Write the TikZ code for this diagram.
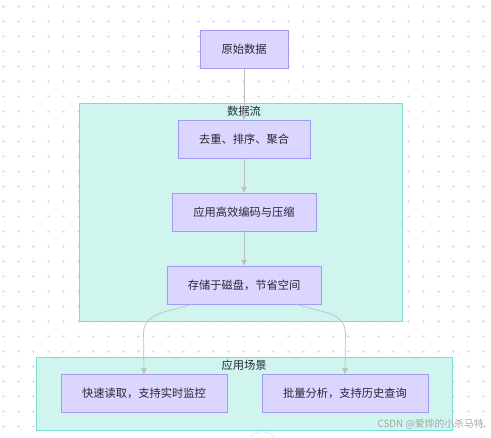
\documentclass[tikz,border=0pt]{standalone}
\usepackage{fontspec}
\setmainfont{Noto Sans CJK SC}
\usepackage{tikz}
\usetikzlibrary{arrows.meta}

\definecolor{boxfill}{RGB}{218,214,255}
\definecolor{boxline}{RGB}{160,152,250}
\definecolor{grpfill}{RGB}{208,244,238}
\definecolor{grpline}{RGB}{125,221,210}
\definecolor{linkgray}{RGB}{190,190,190}
\definecolor{txt}{RGB}{40,40,50}

\begin{document}
\begin{tikzpicture}[x=0.025cm,y=-0.025cm,
  stepbox/.style={draw=boxline,fill=boxfill,line width=0.6pt,minimum height=0.95cm,
    inner sep=0pt,text=txt,font=\fontsize{8}{10}\selectfont},
  group/.style={draw=grpline,fill=grpfill,line width=0.6pt},
  grouptitle/.style={text=txt,font=\fontsize{8}{10}\selectfont,inner sep=1pt},
  flow/.style={draw=linkgray,line width=0.5pt,-{Triangle[length=4pt,width=4pt]}}]
\useasboundingbox (0,0) rectangle (491,437);
% dotted background
\foreach \i in {0,...,32}
  \foreach \j in {0,...,28}
    \draw[black!12,line width=0.4pt] (3+15*\i-1.5,6+15*\j) -- ++(3,0) (3+15*\i,6+15*\j-1.5) -- ++(0,3);
% groups
\draw[group] (79,103) rectangle (402,321);
\draw[group] (36,357) rectangle (452,430);
\node[grouptitle] (t1) at (244,111) {数据流};
\node[grouptitle] (t2) at (244,365) {应用场景};
% boxes
\node[stepbox,minimum width=2.2cm] (raw) at (244,49) {原始数据};
\node[stepbox,minimum width=3.3cm] (clean) at (244,139) {去重、排序、聚合};
\node[stepbox,minimum width=3.6cm] (encode) at (244,212) {应用高效编码与压缩};
\node[stepbox,minimum width=3.85cm] (store) at (244,285) {存储于磁盘，节省空间};
\node[stepbox,minimum width=4.15cm] (fast) at (144,393.5) {快速读取，支持实时监控};
\node[stepbox,minimum width=4.15cm] (batch) at (345,393.5) {批量分析，支持历史查询};
% links
\draw[flow] (raw) -- (clean);
\draw[flow] (clean) -- (encode);
\draw[flow] (encode) -- (store);
\draw[flow] ([xshift=0.6cm]store.south west) to[out=200,in=90] ++(-47,29) -- (fast.north);
\draw[flow] ([xshift=-0.6cm]store.south east) to[out=-20,in=90] ++(48,29) -- (batch.north);
% bits cut off at the bottom
\draw[boxfill!70,line width=0.5pt] (250,437) .. controls (256,430) and (268,430) .. (274,437);
\node[text=black!35,font=\fontsize{7}{8}\selectfont,inner sep=0pt] (mark) at (432,424) {CSDN @爱烨的小杀马特.};
\end{tikzpicture}
\end{document}
